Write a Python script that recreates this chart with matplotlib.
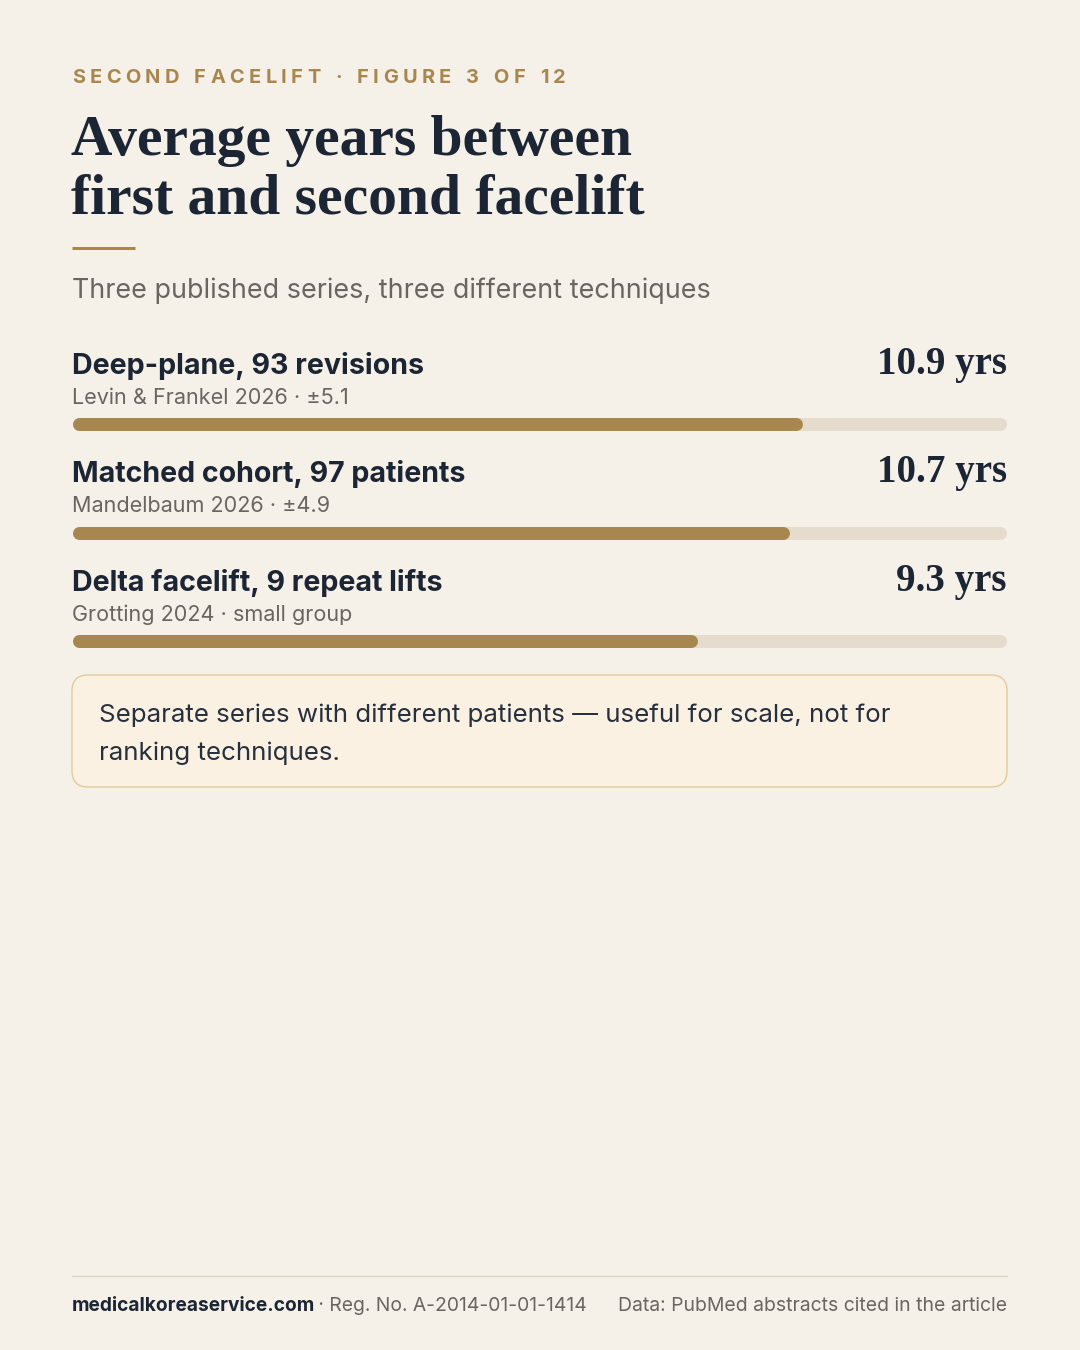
import matplotlib
matplotlib.use("Agg")
import matplotlib.pyplot as plt
from matplotlib.patches import FancyBboxPatch

# data
labels = ["Deep-plane, 93 revisions", "Matched cohort, 97 patients", "Delta facelift, 9 repeat lifts"]
sources = ["Levin & Frankel 2026 · ±5.1", "Mandelbaum 2026 · ±4.9", "Grotting 2024 · small group"]
years = [10.9, 10.7, 9.3]
scale_max = 14

BG = "#f5f0e8"
GOLD = "#a8874f"
TRACK = "#e6dccd"
DARK = "#1c2533"
GRAY = "#6b6560"

W, H = 1080, 1350
PT = 0.72  # px -> pt at dpi 100

fig = plt.figure(figsize=(W / 100, H / 100), dpi=100, facecolor=BG)
ax = fig.add_axes([0, 0, 1, 1])
ax.set_xlim(0, W)
ax.set_ylim(H, 0)
ax.axis("off")

SANS = ["Inter", "DejaVu Sans"]
SERIF = ["Liberation Serif", "DejaVu Serif"]

# kicker with letter spacing
kicker = "SECOND FACELIFT · FIGURE 3 OF 12"
fig.canvas.draw()
r = fig.canvas.get_renderer()
x = 72
for ch in kicker:
    t = ax.text(x, 83, ch, fontsize=20 * PT, fontweight="bold", color=GOLD,
                family=SANS, va="baseline", ha="left")
    if ch == " ":
        w = 6
    else:
        w = t.get_window_extent(r).width
    x += w + 4.4

ax.text(71, 155, "Average years between", fontsize=57.5 * PT, fontweight="bold",
        color=DARK, family=SERIF, va="baseline")
ax.text(71, 213, "first and second facelift", fontsize=57.5 * PT, fontweight="bold",
        color=DARK, family=SERIF, va="baseline")

ax.plot([72, 135], [248, 248], color=GOLD, lw=3 * PT, solid_capstyle="butt")

ax.text(72, 298, "Three published series, three different techniques",
        fontsize=26.9 * PT, color=GRAY, family=SANS, va="baseline")

row_y = [374, 482, 591]
bar_y = [424, 533, 641]
bar_h = 13
x0, x1 = 72, 1007
for lab, src, v, ly, by in zip(labels, sources, years, row_y, bar_y):
    ax.text(72, ly, lab, fontsize=28.6 * PT, fontweight="bold", color=DARK,
            family=SANS, va="baseline")
    ax.text(72, ly + 30, src, fontsize=21.6 * PT, color=GRAY, family=SANS, va="baseline")
    ax.text(1007, ly, f"{v} yrs", fontsize=39 * PT, fontweight="bold", color=DARK,
            family=SERIF, va="baseline", ha="right")
    # bar axes inset by the round cap radius
    r_px = bar_h / 2
    bax = fig.add_axes([(x0 + r_px) / W, 1 - (by + bar_h) / H,
                        (x1 - x0 - 2 * r_px) / W, 2 * bar_h / H])
    bax.set_xlim(0, scale_max)
    bax.set_ylim(-1, 1)
    bax.axis("off")
    bax.plot([0, scale_max], [0, 0], color=TRACK, lw=bar_h * PT,
             solid_capstyle="round", clip_on=False)
    bax.plot([0, v], [0, 0], color=GOLD, lw=bar_h * PT,
             solid_capstyle="round", clip_on=False)

# note box
box = FancyBboxPatch((72 + 16, 675 + 16), 935 - 32, 112 - 32,
                     boxstyle="round,pad=16", facecolor="#faf1e3",
                     edgecolor="#e3cc98", lw=1)
ax.add_patch(box)
ax.text(99, 722, "Separate series with different patients — useful for scale, not for",
        fontsize=25.9 * PT, color="#27303d", family=SANS, va="baseline")
ax.text(99, 760, "ranking techniques.", fontsize=25.9 * PT, color="#27303d",
        family=SANS, va="baseline")

# footer
ax.plot([72, 1007], [1276, 1276], color="#ddd5c6", lw=1)
ft = ax.text(72, 1311, "medicalkoreaservice.com", fontsize=19.1 * PT, fontweight="bold",
             color=DARK, family=SANS, va="baseline")
fig.canvas.draw()
fw = ft.get_window_extent(r).width
ax.text(72 + fw - 2, 1311, " · Reg. No. A-2014-01-01-1414", fontsize=19.3 * PT,
        color=GRAY, family=SANS, va="baseline")
ax.text(1007, 1311, "Data: PubMed abstracts cited in the article", fontsize=19.35 * PT,
        color=GRAY, family=SANS, va="baseline", ha="right")

fig.savefig("out.png", dpi=100, facecolor=BG)
